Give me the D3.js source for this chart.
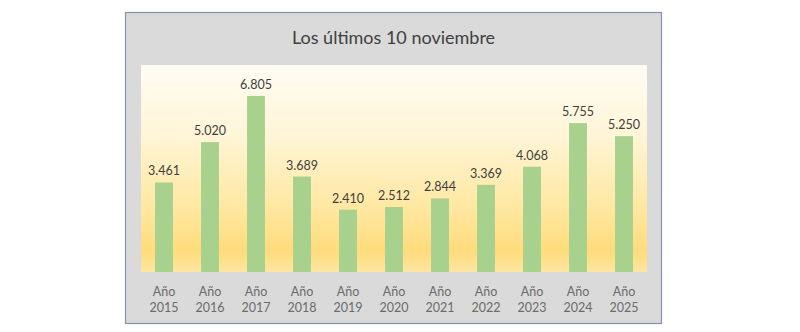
<!DOCTYPE html>
<html><head><meta charset="utf-8">
<script src="https://cdn.jsdelivr.net/npm/d3@7"></script>
<style>html,body{margin:0;padding:0;background:#fff;}svg{display:block;}</style>
</head><body>
<svg id="c" width="800" height="332"></svg>
<script>
const title = "Los últimos 10 noviembre";
const categories = ["2015","2016","2017","2018","2019","2020","2021","2022","2023","2024","2025"];
const prefix = "Año";
const values = [3461,5020,6805,3689,2410,2512,2844,3369,4068,5755,5250];
const yDomain = [0, 8000];

const svg = d3.select("#c");
const font = "Lato, 'Open Sans', sans-serif";

const frame = {x:125.5, y:12.5, w:536, h:311};
svg.append("rect").attr("x",frame.x).attr("y",frame.y).attr("width",frame.w).attr("height",frame.h)
  .attr("fill","#dadada").attr("stroke","#8791ad").attr("stroke-width",1.2);

const plot = {l:141, r:647, t:65, b:272};
const defs = svg.append("defs");
const g = defs.append("linearGradient").attr("id","bg").attr("x1",0).attr("y1",0).attr("x2",0).attr("y2",1);
[[0,"#fffcf3"],[0.35,"#fff5d6"],[0.7,"#ffe79f"],[0.9,"#ffdc7c"],[1,"#fde6a2"]].forEach(s=>
  g.append("stop").attr("offset",s[0]).attr("stop-color",s[1]));
svg.append("rect").attr("x",plot.l).attr("y",plot.t).attr("width",plot.r-plot.l).attr("height",plot.b-plot.t)
  .attr("fill","url(#bg)");

const x = d3.scaleBand().domain(categories).range([plot.l, plot.r]).paddingInner(0.61).paddingOuter(0.305);
const y = d3.scaleLinear().domain(yDomain).range([plot.b, plot.t]);

svg.selectAll("rect.bar").data(values).join("rect").attr("class","bar")
  .attr("x",(d,i)=>x(categories[i])).attr("width",x.bandwidth())
  .attr("y",d=>y(d)).attr("height",d=>y(0)-y(d)).attr("fill","#a9d18e");

const fmt = d3.formatLocale({decimal:",",thousands:".",grouping:[3],currency:["",""]}).format(",d");
svg.selectAll("text.val").data(values).join("text").attr("class","val")
  .attr("x",(d,i)=>x(categories[i])+x.bandwidth()/2).attr("y",d=>y(d)-7)
  .attr("text-anchor","middle").attr("font-family",font).attr("font-size",12.5).attr("fill","#404040")
  .text(d=>fmt(d));

const ax = svg.append("g").attr("transform",`translate(0,${plot.b})`).call(d3.axisBottom(x).tickSize(0).tickFormat(""));
ax.select(".domain").remove();
ax.selectAll(".tick").each(function(d){
  const t = d3.select(this).append("text").attr("text-anchor","middle").attr("font-family",font)
    .attr("font-size",12.5).attr("fill","#6b6b6b");
  t.append("tspan").attr("x",0).attr("y",24).text(prefix);
  t.append("tspan").attr("x",0).attr("y",39.5).text(d);
});

svg.append("text").attr("x",frame.x+frame.w/2).attr("y",44).attr("text-anchor","middle")
  .attr("font-family",font).attr("font-size",18).attr("fill","#404040").text(title);
</script>
</body></html>
